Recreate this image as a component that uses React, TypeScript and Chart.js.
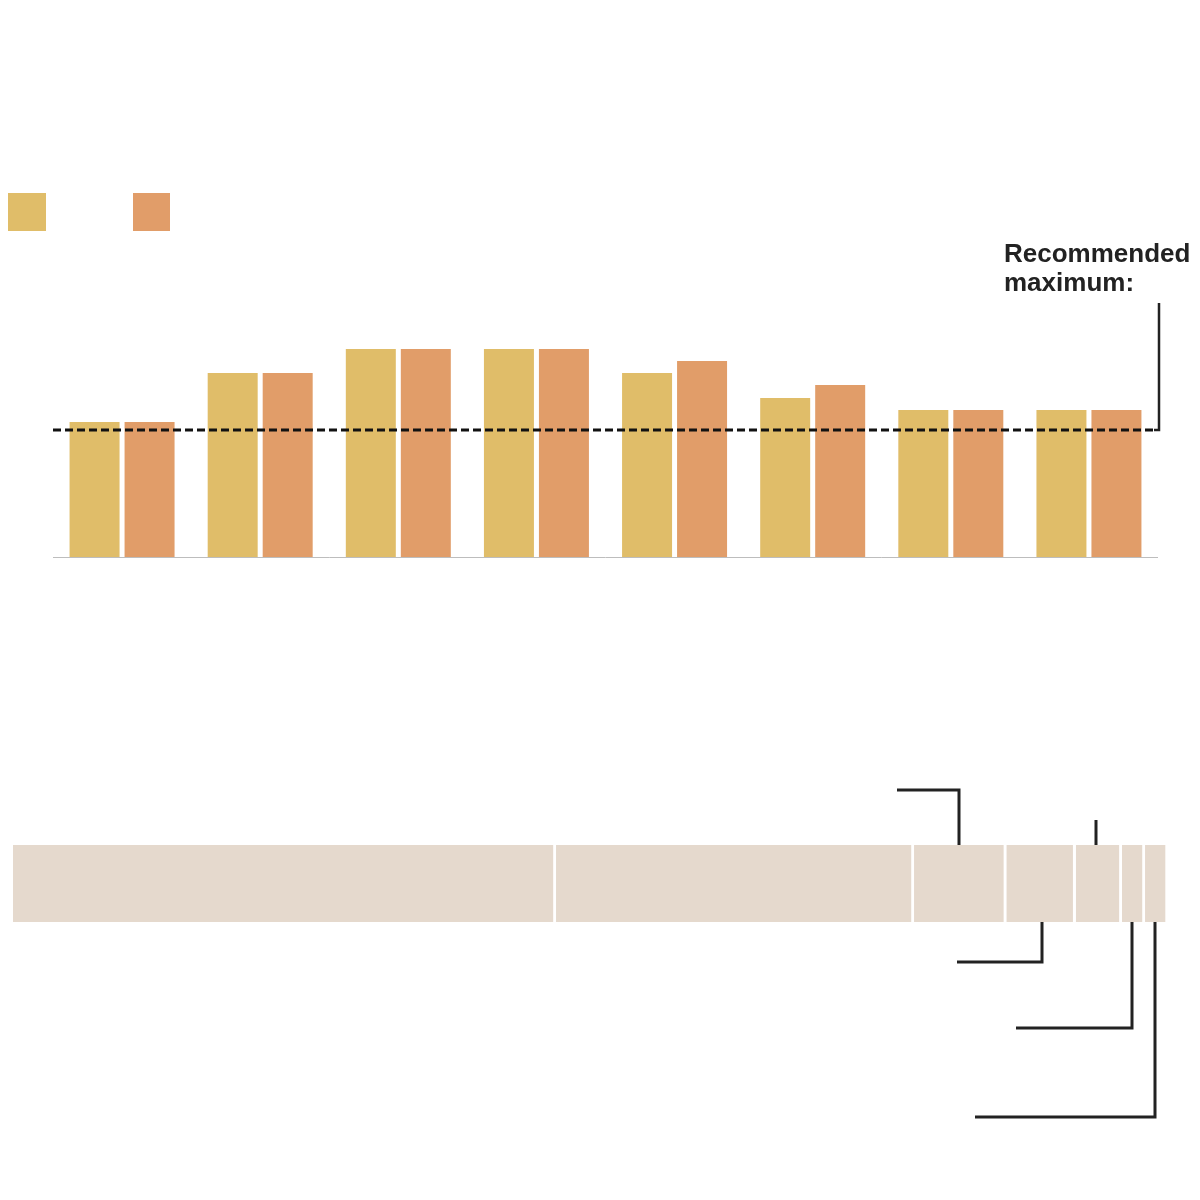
import React, { useEffect, useRef } from 'react';
import { Chart, registerables } from 'chart.js';

Chart.register(...registerables);

// ---- Top chart data (grouped bars) ----
const categories = ['1', '2', '3', '4', '5', '6', '7', '8'];
const seriesA = [135, 184, 208, 208, 184, 159, 147, 147];
const seriesB = [135, 184, 208, 208, 196, 172, 147, 147];
const recommendedMax = 127;
const yMax = 300;
const recommendedLabel = ['Recommended', 'maximum:'];

// ---- Bottom chart data (stacked shares) ----
const shareLabels = ['s1', 's2', 's3', 's4', 's5', 's6', 's7'];
const shareValues = [47, 31, 8, 6, 4, 2, 2];

// connector annotations: segment index, direction, vertical length, horizontal length
const connectorSegments = [2, 4, 3, 5, 6];
const connectorDirs = ['up', 'up', 'down', 'down', 'down'];
const connectorVLen = [55, 25, 40, 106, 195];
const connectorHLen = [62, 0, 85, 116, 180];
const connectorShift = [0, -1, 3, 0, 0];

const YELLOW = '#E0BD69';
const ORANGE = '#E19D69';
const BEIGE = '#E5D9CD';
const INK = '#222222';

function TopChart() {
  const ref = useRef<HTMLCanvasElement>(null);
  useEffect(() => {
    if (!ref.current) return;
    const overlay = {
      id: 'overlay',
      afterDatasetsDraw(chart: any) {
        const { ctx, chartArea } = chart;
        const y = chart.scales.y;
        ctx.save();
        // baseline
        const y0 = Math.round(y.getPixelForValue(0)) + 0.5;
        ctx.strokeStyle = '#bdbdbd';
        ctx.lineWidth = 1;
        ctx.beginPath();
        ctx.moveTo(chartArea.left, y0);
        ctx.lineTo(chartArea.right, y0);
        ctx.stroke();
        // dashed recommended line
        const yr = y.getPixelForValue(recommendedMax);
        ctx.strokeStyle = '#111';
        ctx.lineWidth = 3;
        ctx.setLineDash([8, 4]);
        ctx.beginPath();
        ctx.moveTo(chartArea.left, yr);
        ctx.lineTo(chartArea.right - 2, yr);
        ctx.stroke();
        ctx.setLineDash([]);
        ctx.strokeStyle = INK;
        ctx.lineWidth = 2.5;
        ctx.beginPath();
        ctx.moveTo(chartArea.right - 4, yr);
        ctx.lineTo(chartArea.right + 1, yr);
        ctx.lineTo(chartArea.right + 1, yr - 127);
        ctx.stroke();
        // label
        ctx.fillStyle = INK;
        ctx.font = 'bold 26px "Liberation Sans", Arial, sans-serif';
        ctx.textAlign = 'left';
        ctx.textBaseline = 'alphabetic';
        ctx.fillText(recommendedLabel[0], 1004, 262);
        ctx.fillText(recommendedLabel[1], 1004, 291);
        // legend swatches
        ctx.fillStyle = YELLOW;
        ctx.fillRect(8, 193, 38, 38);
        ctx.fillStyle = ORANGE;
        ctx.fillRect(133, 193, 37, 38);
        ctx.restore();
      },
    };
    const chart = new Chart(ref.current, {
      type: 'bar',
      data: {
        labels: categories,
        datasets: [
          { data: seriesA, backgroundColor: YELLOW, borderWidth: 0 },
          { data: seriesB, backgroundColor: ORANGE, borderWidth: 0 },
        ],
      },
      options: {
        responsive: false,
        animation: false,
        layout: { padding: { left: 53, right: 42, top: 257, bottom: 43 } },
        datasets: { bar: { categoryPercentage: 0.7964, barPercentage: 0.909 } },
        scales: {
          x: { display: false },
          y: { display: false, min: 0, max: yMax },
        },
        plugins: { legend: { display: false }, tooltip: { enabled: false } },
      },
      plugins: [overlay],
    });
    return () => chart.destroy();
  }, []);
  return <canvas ref={ref} width={1200} height={600} style={{ display: 'block' }} />;
}

function BottomChart() {
  const ref = useRef<HTMLCanvasElement>(null);
  useEffect(() => {
    if (!ref.current) return;
    const connectors = {
      id: 'connectors',
      afterDatasetsDraw(chart: any) {
        const { ctx, chartArea } = chart;
        const x = chart.scales.x;
        ctx.save();
        ctx.strokeStyle = INK;
        ctx.lineWidth = 3;
        ctx.lineCap = 'butt';
        connectorSegments.forEach((seg, i) => {
          let start = 0;
          for (let k = 0; k < seg; k++) start += shareValues[k];
          const mid = start + shareValues[seg] / 2;
          const px = Math.round(x.getPixelForValue(mid) - 1.5) + connectorShift[i];
          const up = connectorDirs[i] === 'up';
          const y0 = up ? chartArea.top : chartArea.bottom;
          const y1 = up ? y0 - connectorVLen[i] : y0 + connectorVLen[i];
          ctx.beginPath();
          ctx.moveTo(px, y0);
          ctx.lineTo(px, y1);
          if (connectorHLen[i] > 0) ctx.lineTo(px - connectorHLen[i], y1);
          ctx.stroke();
        });
        ctx.restore();
      },
    };
    const chart = new Chart(ref.current, {
      type: 'bar',
      data: {
        labels: [''],
        datasets: shareValues.map((v, i) => ({
          label: shareLabels[i],
          data: [v],
          backgroundColor: BEIGE,
          borderColor: '#ffffff',
          borderWidth: { right: 3, left: 0, top: 0, bottom: 0 },
          borderSkipped: false,
        })),
      },
      options: {
        indexAxis: 'y',
        responsive: false,
        animation: false,
        layout: { padding: { left: 13, right: 32, top: 245, bottom: 278 } },
        datasets: { bar: { categoryPercentage: 1, barPercentage: 1 } },
        scales: {
          x: { display: false, stacked: true, min: 0, max: 100 },
          y: { display: false, stacked: true },
        },
        plugins: { legend: { display: false }, tooltip: { enabled: false } },
      },
      plugins: [connectors],
    });
    return () => chart.destroy();
  }, []);
  return <canvas ref={ref} width={1200} height={600} style={{ display: 'block' }} />;
}

export default function App() {
  return (
    <div style={{ position: 'absolute', left: 0, top: 0, width: 1200, height: 1200, background: '#fff' }}>
      <TopChart />
      <BottomChart />
    </div>
  );
}
